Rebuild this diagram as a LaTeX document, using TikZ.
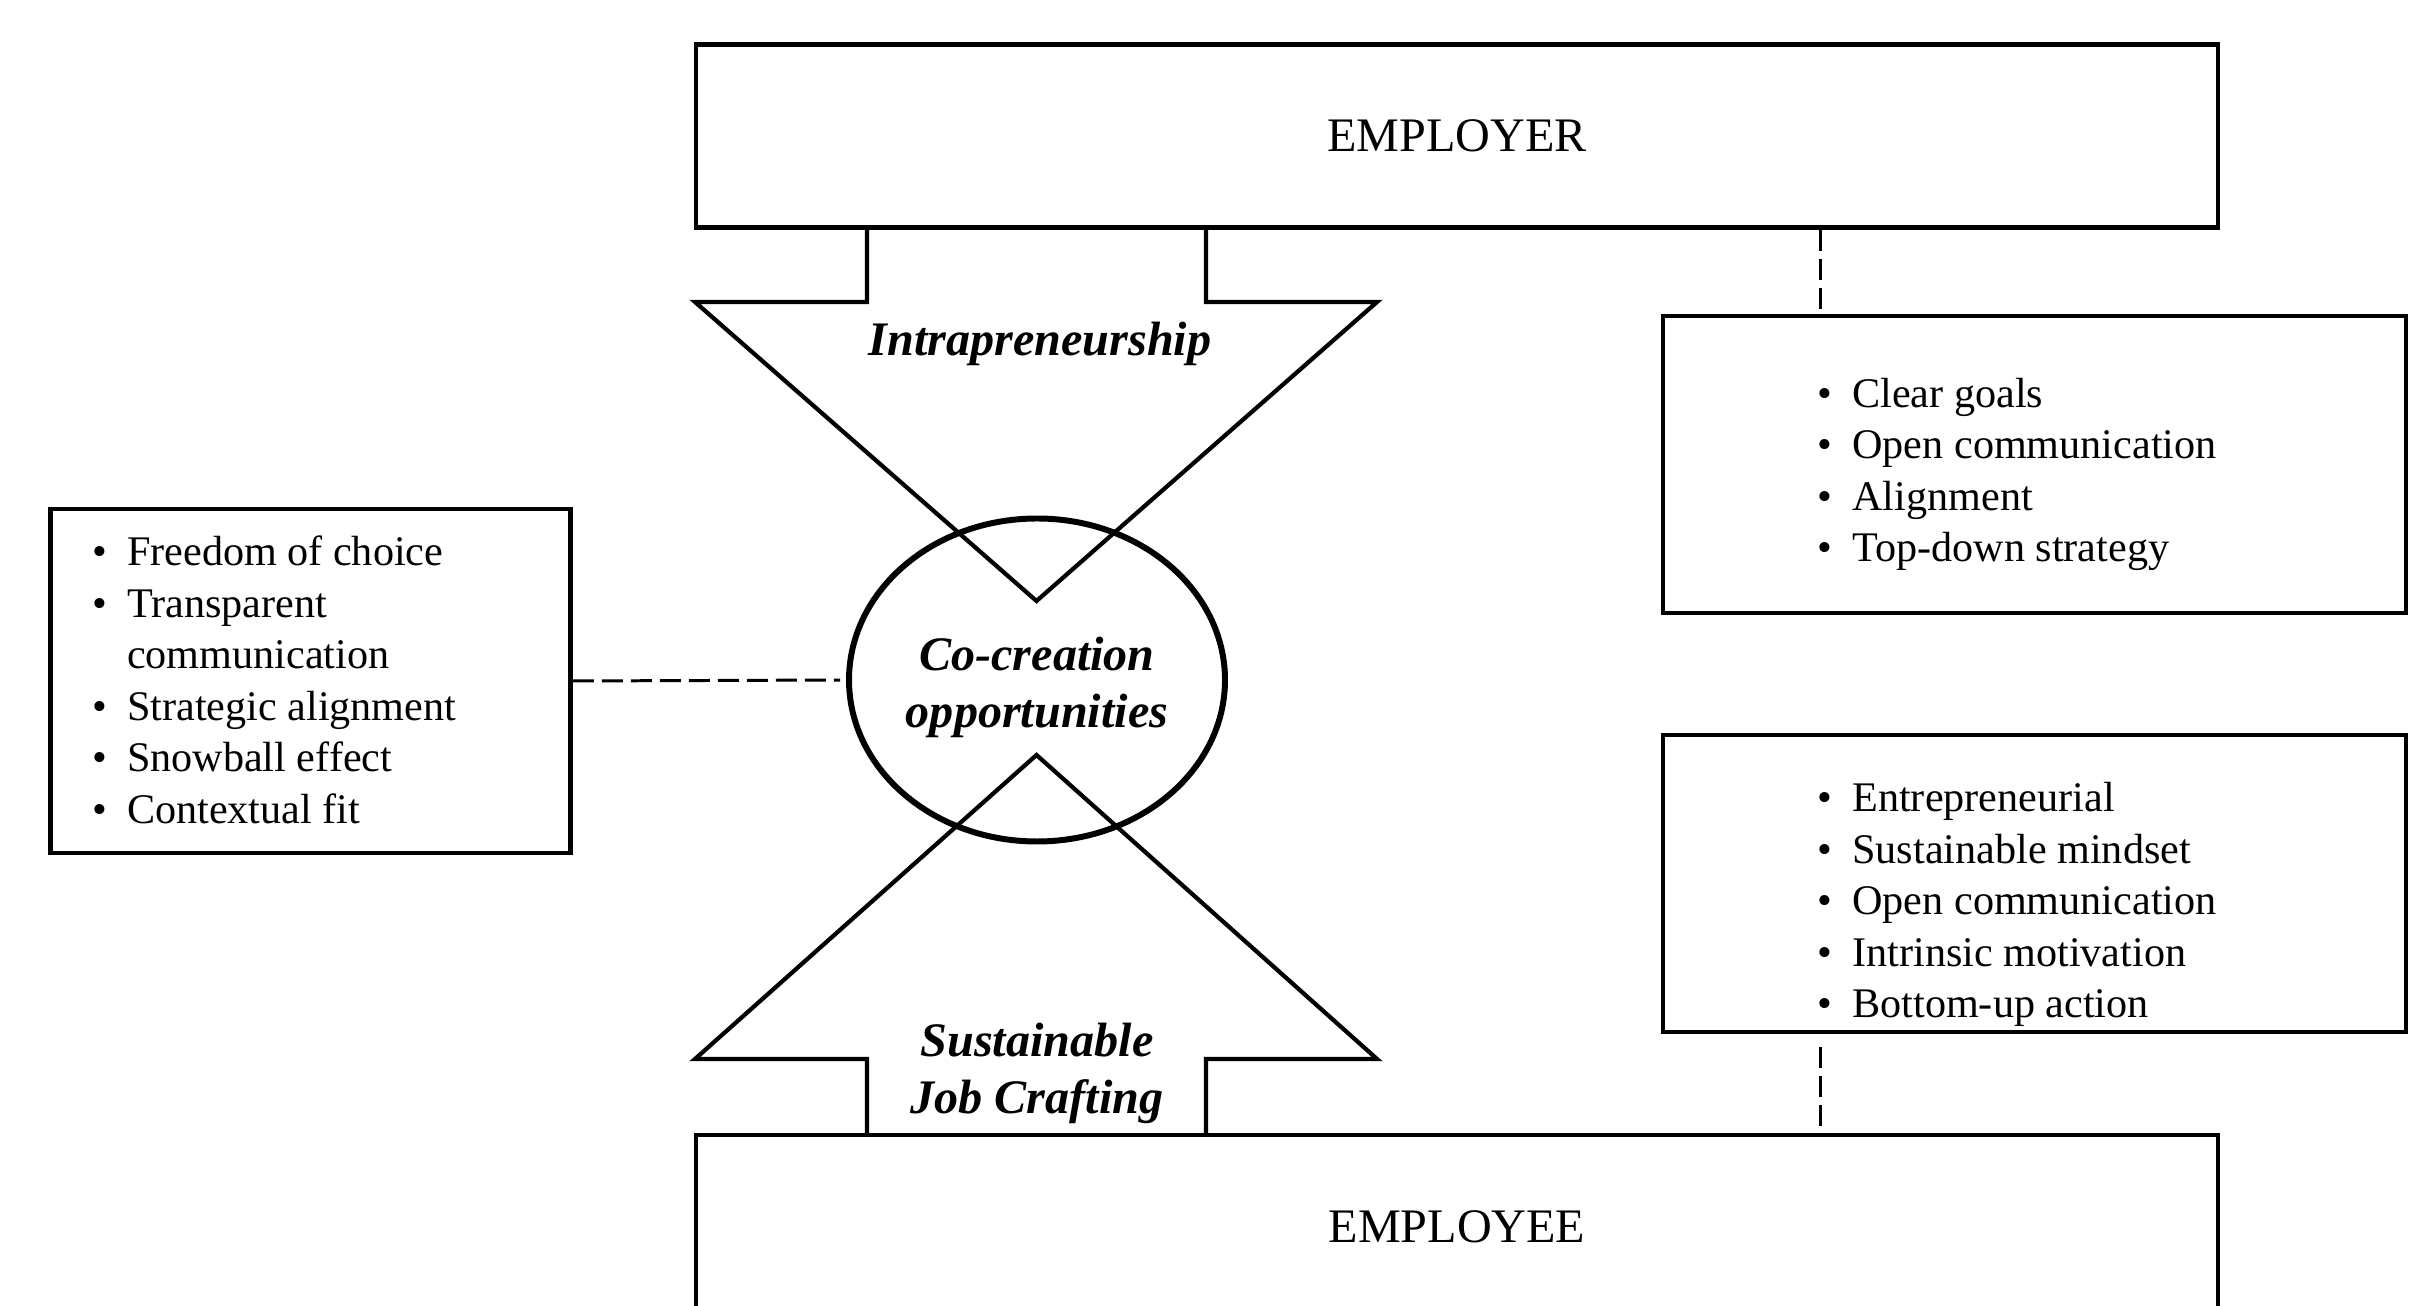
\documentclass[tikz,border=0pt]{standalone}
\usepackage{fontspec}
\setmainfont{Liberation Serif}
\usetikzlibrary{shapes.geometric,positioning}

\tikzset{
  party/.style={draw, line width=1.3pt, minimum width=15.22cm, minimum height=1.83cm,
    font=\fontsize{13.7}{16.3}\selectfont},
  listbox/.style={draw, line width=1.3pt},
  listtext/.style={inner sep=0pt, align=left, font=\fontsize{12}{14.65}\selectfont},
  flow/.style={line width=1.2pt, line join=miter},
  tag/.style={align=center, font=\fontsize{13.7}{16.3}\selectfont\bfseries\itshape},
  link/.style={line width=0.85pt, dash pattern=on 2.1mm off 0.8mm}
}
\newcommand{\itm}{\makebox[3.5mm][l]{\textbullet}}

\begin{document}
\begin{tikzpicture}
    \clip (0,0) rectangle (24.14,13.05);

    \node[party] (employer) at (14.57,11.69) {EMPLOYER};
    \node[party] (employee) at (14.57,0.785) {EMPLOYEE};

    % the two arrows meeting in the middle
    \draw[flow] (8.67,10.77) -- (8.67,10.03) -- (6.95,10.03) -- (10.365,7.04)
      -- (13.77,10.03) -- (12.06,10.03) -- (12.06,10.77);
    \draw[flow] (8.67,1.70) -- (8.67,2.46) -- (6.95,2.46) -- (10.365,5.50)
      -- (13.77,2.46) -- (12.06,2.46) -- (12.06,1.70);
    \node[tag] (intra) at (10.40,9.615) {Intrapreneurship};
    \node[tag] (crafting) at (10.37,2.315) {Sustainable\\Job Crafting};

    \node[ellipse, draw, line width=1.7pt, inner sep=0pt, minimum width=3.76cm,
      minimum height=3.23cm, tag] (cocreate) at (10.37,6.25) {};
    \node[tag] (cotext) at (10.37,6.175) {Co-creation\\opportunities};

    % boxes with the bullet lists
    \node[listbox, minimum width=5.2cm, minimum height=3.44cm] (values) at (3.107,6.24) {};
    \node[listbox, minimum width=7.43cm, minimum height=2.97cm] (goals) at (20.345,8.405) {};
    \node[listbox, minimum width=7.43cm, minimum height=2.97cm] (traits) at (20.345,4.215) {};

    \node[listtext, right=0.43cm of values.west, yshift=0.1mm] (valuelist) {%
      \itm Freedom of choice\\
      \itm Transparent\\
      \hspace*{3.5mm}communication\\
      \itm Strategic alignment\\
      \itm Snowball effect\\
      \itm Contextual fit};
    \node[listtext, right=1.56cm of goals.west, yshift=-1.0mm] (goallist) {%
      \itm Clear goals\\
      \itm Open communication\\
      \itm Alignment\\
      \itm Top-down strategy};
    \node[listtext, right=1.56cm of traits.west, yshift=-2.1mm] (traitlist) {%
      \itm Entrepreneurial\\
      \itm Sustainable mindset\\
      \itm Open communication\\
      \itm Intrinsic motivation\\
      \itm Bottom-up action};

    % dashed links
    \coordinate (tie) at (18.20,0);
    \draw[link, shorten >=0.6mm] (values.east) -- (cocreate.west);
    \draw[link] (employer.south -| tie) -- (goals.north -| tie);
    \draw[link, shorten <=1.3mm] (traits.south -| tie) -- (employee.north -| tie);
\end{tikzpicture}
\end{document}
